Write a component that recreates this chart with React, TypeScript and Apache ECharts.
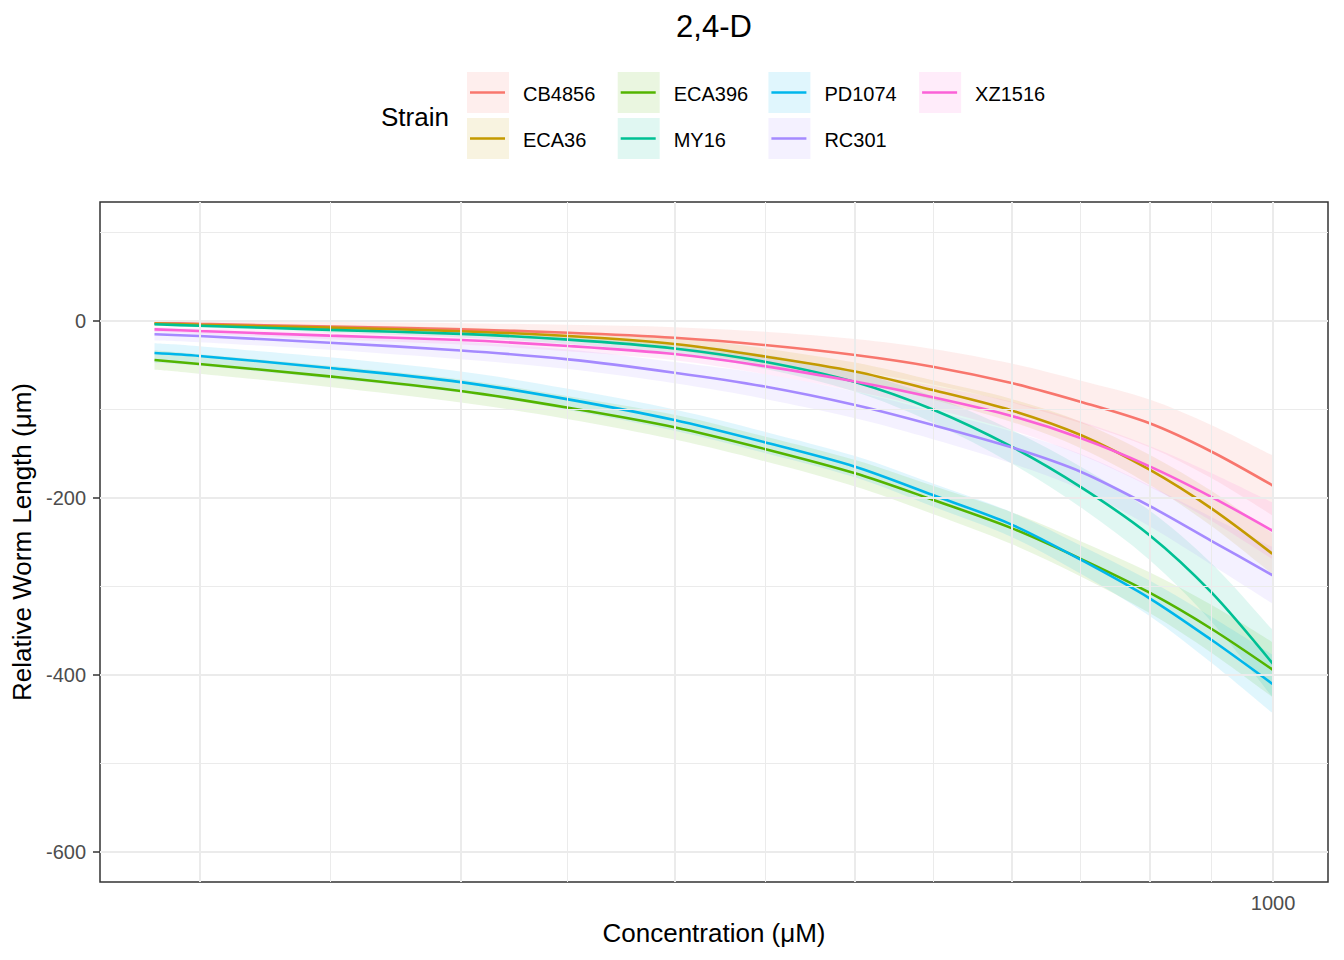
import React, { useEffect, useRef } from "react";
import * as echarts from "echarts";

// ---------- data ----------
const concentrations = [385, 400, 447, 500, 548, 600, 648, 700, 748, 800, 849, 900, 949, 1000];

const strains = ["CB4856", "ECA36", "ECA396", "MY16", "PD1074", "RC301", "XZ1516"];
const strainColors = ["#F8766D", "#C49A00", "#53B400", "#00C094", "#00B6EB", "#A58AFF", "#FB61D7"];

const meanCB4856 = [-1.9, -3.2, -6.2, -9.4, -13.2, -18.9, -27.1, -38.4, -51.6, -70.1, -91.5, -115.6, -147.7, -186.1];
const upperCB4856 = [1.1, -0.2, -1.2, -2.4, -4.2, -6.9, -12.1, -20.4, -31.6, -48.1, -67.5, -88.6, -117.7, -152.1];
const lowerCB4856 = [-4.9, -6.2, -11.2, -16.4, -22.2, -30.9, -42.1, -56.4, -71.6, -92.1, -115.5, -142.6, -177.7, -220.1];

const meanECA36 = [-2.8, -4.3, -7.5, -11.5, -17, -26, -40, -57, -78, -101, -129, -168, -212, -263.6];
const upperECA36 = [-0.8, -2.3, -4.5, -7.5, -12, -19, -31, -47, -67, -88, -114, -151, -192, -240.6];
const lowerECA36 = [-4.8, -6.3, -10.5, -15.5, -22, -33, -49, -67, -89, -114, -144, -185, -232, -286.6];

const meanECA396 = [-44.1, -48.5, -62.5, -79, -98, -120, -144.5, -172, -202, -234, -269, -307, -348, -394.3];
const upperECA396 = [-33.1, -37.5, -50.5, -66, -85, -106, -130.5, -157, -186, -216, -249, -284, -321, -363.3];
const lowerECA396 = [-55.1, -59.5, -74.5, -92, -111, -134, -158.5, -187, -218, -252, -289, -330, -375, -425.3];

const meanMY16 = [-3.7, -5.3, -10, -14.5, -21, -31, -46, -69, -100, -142, -188, -242, -307, -387.6];
const upperMY16 = [-1.7, -3.3, -7, -10.5, -16, -25, -38, -58, -85, -123, -165, -214, -274, -349.6];
const lowerMY16 = [-5.7, -7.3, -13, -18.5, -26, -37, -54, -80, -115, -161, -211, -270, -340, -425.6];

const meanPD1074 = [-36.2, -39.5, -53, -69, -88.5, -111.9, -137, -164.6, -196.6, -230, -270, -313.3, -360.5, -410.5];
const upperPD1074 = [-25.2, -28.5, -41, -57, -76.5, -99.9, -125, -152.6, -183.6, -216, -254, -293.3, -334.5, -377.5];
const lowerPD1074 = [-47.2, -50.5, -65, -81, -100.5, -123.9, -149, -176.6, -209.6, -244, -286, -333.3, -386.5, -443.5];

const meanRC301 = [-15, -17, -24.5, -33.3, -43.3, -58.4, -74, -94.9, -117.5, -142.7, -170.6, -209, -248.6, -287.6];
const upperRC301 = [-8, -10, -16.5, -23.3, -32.3, -46.4, -60, -79.9, -101.5, -124.7, -150.6, -186, -221.6, -255.6];
const lowerRC301 = [-22, -24, -32.5, -43.3, -54.3, -70.4, -88, -109.9, -133.5, -160.7, -190.6, -232, -275.6, -319.6];

const meanXZ1516 = [-9.4, -11.3, -16.5, -21.5, -28.2, -37.3, -51, -68.4, -86.2, -107.3, -132.5, -164.2, -198.9, -237.3];
const upperXZ1516 = [-6.4, -8.3, -12.5, -16.5, -22.2, -30.3, -42, -57.4, -73.2, -91.3, -113.5, -141.2, -171.9, -205.3];
const lowerXZ1516 = [-12.4, -14.3, -20.5, -26.5, -34.2, -44.3, -60, -79.4, -99.2, -123.3, -151.5, -187.2, -225.9, -269.3];

const means = [meanCB4856, meanECA36, meanECA396, meanMY16, meanPD1074, meanRC301, meanXZ1516];
const uppers = [upperCB4856, upperECA36, upperECA396, upperMY16, upperPD1074, upperRC301, upperXZ1516];
const lowers = [lowerCB4856, lowerECA36, lowerECA396, lowerMY16, lowerPD1074, lowerRC301, lowerXZ1516];

const xMajorTicks = [400, 500, 600, 700, 800, 900, 1000];
const xMinorGrid = [447.2, 547.7, 648.1, 748.3, 848.5, 948.7];
const xTickLabels = [1000];
const yMajorTicks = [-600, -400, -200, 0];
const yMinorGrid = [-500, -300, -100, 100];

const chartTitle = "2,4-D";
const xTitle = "Concentration (μM)";
const yTitle = "Relative Worm Length (μm)";
const legendTitle = "Strain";

// ---------- helpers ----------
const FONT = '"Liberation Sans", Arial, Helvetica, sans-serif';

function hexToRgba(hex: string, a: number): string {
  const r = parseInt(hex.slice(1, 3), 16);
  const g = parseInt(hex.slice(3, 5), 16);
  const b = parseInt(hex.slice(5, 7), 16);
  return `rgba(${r},${g},${b},${a})`;
}

const RIBBON_ALPHA = 0.12;
const SMOOTH = 0.3;

// smooth path through pixel points (Catmull-Rom -> cubic Bezier)
function curveThrough(pts: number[][], start: "M" | "L"): string {
  let d = `${start}${pts[0][0]},${pts[0][1]}`;
  const n = pts.length;
  for (let i = 0; i < n - 1; i++) {
    const p0 = pts[Math.max(i - 1, 0)];
    const p1 = pts[i];
    const p2 = pts[i + 1];
    const p3 = pts[Math.min(i + 2, n - 1)];
    const c1x = p1[0] + (p2[0] - p0[0]) / 6;
    const c1y = p1[1] + (p2[1] - p0[1]) / 6;
    const c2x = p2[0] - (p3[0] - p1[0]) / 6;
    const c2y = p2[1] - (p3[1] - p1[1]) / 6;
    d += ` C${c1x},${c1y} ${c2x},${c2y} ${p2[0]},${p2[1]}`;
  }
  return d;
}

function buildOption(): any {
  const series: any[] = [];

  // gridlines via markLine
  const gridLines: any[] = [];
  xMajorTicks.forEach((v) => gridLines.push({ xAxis: v, lineStyle: { width: 2, color: "#EBEBEB", type: "solid" } }));
  xMinorGrid.forEach((v) => gridLines.push({ xAxis: v, lineStyle: { width: 1, color: "#EBEBEB", type: "solid" } }));
  yMajorTicks.forEach((v) => gridLines.push({ yAxis: v, lineStyle: { width: 2, color: "#EBEBEB", type: "solid" } }));
  yMinorGrid.forEach((v) => gridLines.push({ yAxis: v, lineStyle: { width: 1, color: "#EBEBEB", type: "solid" } }));
  series.push({
    type: "line",
    name: "__grid",
    data: [[400, 0]],
    symbol: "none",
    lineStyle: { opacity: 0 },
    silent: true,
    z: 0,
    markLine: {
      silent: true,
      symbol: ["none", "none"],
      label: { show: false },
      animation: false,
      data: gridLines,
    },
  });

  // confidence ribbons (custom series, one polygon per strain)
  strains.forEach((s, i) => {
    const fill = hexToRgba(strainColors[i], RIBBON_ALPHA);
    series.push({
      type: "custom",
      name: s + "_ci",
      coordinateSystem: "cartesian2d",
      clip: true,
      silent: true,
      z: 1,
      encode: { x: 0, y: [1, 2] },
      data: concentrations.map((c, k) => [c, lowers[i][k], uppers[i][k]]),
      renderItem: (params: any, api: any) => {
        if (params.dataIndex !== 0) return null;
        const n = concentrations.length;
        const up: number[][] = [];
        const dn: number[][] = [];
        for (let k = 0; k < n; k++) {
          const x = api.value(0, k);
          up.push(api.coord([x, api.value(2, k)]));
          dn.push(api.coord([x, api.value(1, k)]));
        }
        dn.reverse();
        const d = curveThrough(up, "M") + " " + curveThrough(dn, "L") + " Z";
        return {
          type: "path",
          shape: { pathData: d },
          style: { fill, stroke: "none" },
        };
      },
    });
  });

  // fitted lines
  strains.forEach((s, i) => {
    series.push({
      type: "line",
      name: s,
      data: concentrations.map((c, k) => [c, means[i][k]]),
      symbol: "none",
      smooth: SMOOTH,
      lineStyle: { color: strainColors[i], width: 2.6 },
      itemStyle: { color: strainColors[i] },
      z: 3,
    });
  });

  // legend drawn as graphic (column-major, 2 rows)
  const legendEls: any[] = [];
  legendEls.push({
    type: "text",
    style: { text: legendTitle, x: 381, y: 117, font: `26px ${FONT}`, fill: "#000", align: "left", verticalAlign: "middle" },
  });
  strains.forEach((s, i) => {
    const col = Math.floor(i / 2);
    const row = i % 2;
    const kx = 467 + col * 150.7;
    const ky = 72 + row * 46;
    legendEls.push({
      type: "rect",
      shape: { x: kx, y: ky, width: 42, height: 41 },
      style: { fill: hexToRgba(strainColors[i], RIBBON_ALPHA) },
    });
    legendEls.push({
      type: "line",
      shape: { x1: kx + 3, y1: ky + 20.5, x2: kx + 38, y2: ky + 20.5 },
      style: { stroke: strainColors[i], lineWidth: 2.6 },
    });
    legendEls.push({
      type: "text",
      style: { text: s, x: kx + 56, y: ky + 21.5, font: `20px ${FONT}`, fill: "#000", align: "left", verticalAlign: "middle" },
    });
  });

  return {
    animation: false,
    backgroundColor: "#FFFFFF",
    textStyle: { fontFamily: FONT },
    title: {
      text: chartTitle,
      left: 714,
      top: 11,
      textAlign: "center",
      padding: 0,
      textStyle: { fontSize: 31, fontWeight: "normal", color: "#000", fontFamily: FONT },
    },
    grid: {
      left: 100,
      top: 202,
      width: 1228,
      height: 680,
      containLabel: false,
      outerBoundsMode: "none",
      show: true,
      borderColor: "#333333",
      borderWidth: 1.5,
      backgroundColor: "transparent",
    },
    xAxis: {
      type: "log",
      logBase: 10,
      min: 367.5,
      max: 1048,
      name: xTitle,
      nameLocation: "middle",
      nameGap: 38,
      nameTextStyle: { fontSize: 26, color: "#000", fontFamily: FONT },
      axisLine: { show: false },
      splitLine: { show: false },
      minorSplitLine: { show: false },
      axisTick: { show: true, length: 7, customValues: xMajorTicks, lineStyle: { color: "#333333", width: 1.5 } },
      axisLabel: {
        show: true,
        customValues: xTickLabels,
        formatter: (v: number) => String(Math.round(v)),
        margin: 11,
        fontSize: 20,
        color: "#4D4D4D",
        fontFamily: FONT,
      },
    },
    yAxis: {
      type: "value",
      min: -633.9,
      max: 134.5,
      name: yTitle,
      nameLocation: "middle",
      nameGap: 65,
      nameTextStyle: { fontSize: 26, color: "#000", fontFamily: FONT },
      axisLine: { show: false },
      splitLine: { show: false },
      axisTick: { show: true, length: 7, customValues: yMajorTicks, lineStyle: { color: "#333333", width: 1.5 } },
      axisLabel: { show: true, customValues: yMajorTicks, margin: 14, fontSize: 20, color: "#4D4D4D", fontFamily: FONT },
    },
    graphic: legendEls,
    series,
  };
}

export default function App() {
  const ref = useRef<HTMLDivElement>(null);
  useEffect(() => {
    document.body.style.margin = "0";
    if (!ref.current) return;
    const chart = echarts.init(ref.current, undefined, { renderer: "svg" });
    chart.setOption(buildOption());
    return () => {
      chart.dispose();
    };
  }, []);
  return <div ref={ref} style={{ width: 1344, height: 960 }} />;
}
